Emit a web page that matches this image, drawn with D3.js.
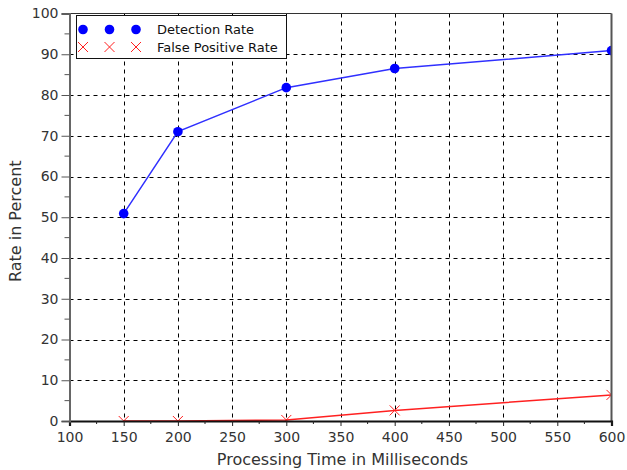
<!DOCTYPE html>
<html>
<head>
<meta charset="utf-8">
<script src="https://cdn.jsdelivr.net/npm/d3@7"></script>
<style>
  body { margin: 0; background: #fff; }
  svg { display: block; font-family: "DejaVu Sans", sans-serif; }
</style>
</head>
<body>
<svg id="chart" width="627" height="470"></svg>
<script>
// values
var times = [150, 200, 300, 400, 600];
var detectionRate = [50.9, 71.0, 81.8, 86.5, 90.9];
var falsePositiveRate = [0, 0, 0.25, 2.6, 6.4];
var xTicks = [100, 150, 200, 250, 300, 350, 400, 450, 500, 550, 600];
var yTicks = [0, 10, 20, 30, 40, 50, 60, 70, 80, 90, 100];
var legendLabels = ["Detection Rate", "False Positive Rate"];

var svg = d3.select("#chart");
// plot box (note: "top" is taken by window.top, so use pLeft etc)
var pLeft = 69.5, pRight = 611.5, pTop = 13.5, pBottom = 421;

var x = d3.scaleLinear().domain([100, 600]).range([pLeft, pRight]);
var y = d3.scaleLinear().domain([0, 100]).range([pBottom, pTop]);

svg.append("defs").append("clipPath").attr("id", "plot")
  .append("rect")
  .attr("x", pLeft).attr("y", pTop)
  .attr("width", pRight - pLeft).attr("height", pBottom - pTop);

// grid
var grid = svg.append("g").attr("stroke", "#000").attr("stroke-dasharray", "4,4");
grid.selectAll(".gx").data(xTicks.slice(1, -1)).enter().append("line")
  .attr("x1", d => Math.round(x(d)) + 0.5).attr("x2", d => Math.round(x(d)) + 0.5)
  .attr("y1", pTop).attr("y2", pBottom);
grid.selectAll(".gy").data(yTicks.slice(1, -1)).enter().append("line")
  .attr("y1", d => Math.round(y(d)) + 0.5).attr("y2", d => Math.round(y(d)) + 0.5)
  .attr("x1", pLeft).attr("x2", pRight);

// series
var plot = svg.append("g").attr("clip-path", "url(#plot)");

var line = d3.line().x((d, i) => x(times[i])).y(d => y(d));

plot.append("path").datum(falsePositiveRate)
  .attr("d", line).attr("fill", "none")
  .attr("stroke", "#ff2020").attr("stroke-width", 1.5);

plot.append("path").datum(detectionRate)
  .attr("d", line).attr("fill", "none")
  .attr("stroke", "#3030ff").attr("stroke-width", 1.5);

function cross(g, cx, cy) {
  g.append("path")
    .attr("d", "M" + (cx - 5) + "," + (cy - 5) + "L" + (cx + 5) + "," + (cy + 5) +
               "M" + (cx + 5) + "," + (cy - 5) + "L" + (cx - 5) + "," + (cy + 5))
    .attr("stroke", "#ff2020").attr("stroke-width", 1).attr("fill", "none");
}

plot.selectAll(".dot").data(detectionRate).enter().append("circle")
  .attr("cx", (d, i) => x(times[i])).attr("cy", d => y(d))
  .attr("r", 4.8).attr("fill", "#0000ff");

falsePositiveRate.forEach(function(d, i) { cross(plot, x(times[i]), y(d)); });

// frame
svg.append("line").attr("x1", pLeft).attr("x2", pRight).attr("y1", pTop).attr("y2", pTop)
  .attr("stroke", "#333").attr("stroke-width", 1.2);
svg.append("line").attr("x1", pRight).attr("x2", pRight).attr("y1", pTop).attr("y2", pBottom)
  .attr("stroke", "#555").attr("stroke-width", 2);

// x axis
var xAxis = d3.axisBottom(x).tickValues(xTicks).tickSize(5).tickPadding(6);
var gx = svg.append("g").attr("transform", "translate(0," + pBottom + ")").call(xAxis);
gx.select(".domain").attr("stroke", "#111").attr("stroke-width", 2.2);
gx.selectAll(".tick line").attr("stroke", "#222");
gx.selectAll("text").attr("font-size", 14).attr("fill", "#333")
  .attr("font-family", "DejaVu Sans, sans-serif");
var xMinor = d3.range(125, 600, 50);
svg.append("g").selectAll("line").data(xMinor).enter().append("line")
  .attr("x1", d => x(d)).attr("x2", d => x(d))
  .attr("y1", pBottom).attr("y2", pBottom + 3).attr("stroke", "#222");

// y axis
var yAxis = d3.axisLeft(y).tickValues(yTicks).tickSize(8).tickPadding(3);
var gy = svg.append("g").attr("transform", "translate(" + pLeft + ",0)").call(yAxis);
gy.select(".domain").attr("stroke", "#666").attr("stroke-width", 2);
gy.selectAll(".tick line").attr("stroke", "#555");
gy.selectAll("text").attr("font-size", 14).attr("fill", "#333")
  .attr("font-family", "DejaVu Sans, sans-serif");
var yMinor = d3.range(5, 100, 10);
svg.append("g").selectAll("line").data(yMinor).enter().append("line")
  .attr("x1", pLeft - 5).attr("x2", pLeft)
  .attr("y1", d => y(d)).attr("y2", d => y(d)).attr("stroke", "#555");

// axis titles
svg.append("text").attr("x", (pLeft + pRight) / 2 + 2).attr("y", 465)
  .attr("text-anchor", "middle").attr("font-size", 16).attr("fill", "#333")
  .text("Processing Time in Milliseconds");
svg.append("text")
  .attr("transform", "translate(21," + ((pTop + pBottom) / 2 + 4) + ") rotate(-90)")
  .attr("text-anchor", "middle").attr("font-size", 16).attr("fill", "#333")
  .text("Rate in Percent");

// legend
var legend = svg.append("g");
legend.append("rect").attr("x", 76.5).attr("y", 15.5).attr("width", 210).attr("height", 43)
  .attr("fill", "#fff").attr("stroke", "#111");
var markerX = [83, 109.5, 136];
markerX.forEach(function(mx) {
  legend.append("circle").attr("cx", mx).attr("cy", 29.5).attr("r", 4.8).attr("fill", "#0000ff");
  cross(legend, mx, 47);
});
legend.selectAll("text").data(legendLabels).enter().append("text")
  .attr("x", 157).attr("y", (d, i) => 34 + i * 18)
  .attr("font-size", 13).attr("fill", "#111")
  .text(d => d);
</script>
</body>
</html>
